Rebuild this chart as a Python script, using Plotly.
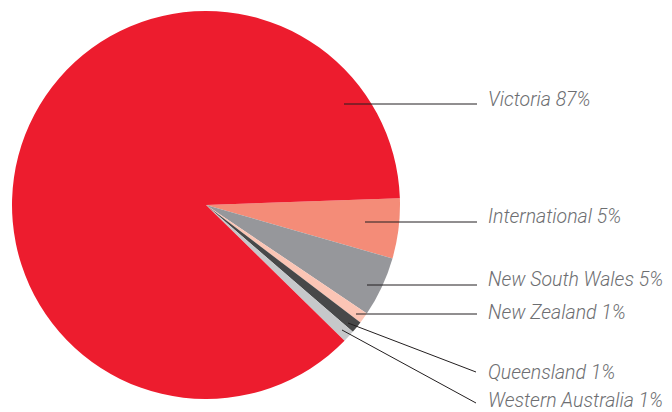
import plotly.graph_objects as go

# Data (clockwise from just above 3 o'clock)
regions = ["International", "New South Wales", "New Zealand", "Queensland", "Western Australia", "Victoria"]
shares = [5.0, 5.0, 0.9, 1.0, 1.0, 87.1]
label_pct = ["5%", "5%", "1%", "1%", "1%", "87%"]
colors = ["#F48C78", "#96979B", "#FBC5B5", "#474849", "#C6C8CA", "#ED1C2E"]

W, H = 672, 412
cx, cy, r = 206, 205, 194

fig = go.Figure(go.Pie(
    labels=regions,
    values=shares,
    sort=False,
    direction="clockwise",
    rotation=88,
    marker=dict(colors=colors, line=dict(width=0)),
    textinfo="none",
    hoverinfo="label+percent",
    domain=dict(x=[(cx - r) / W, (cx + r) / W], y=[(H - cy - r) / H, (H - cy + r) / H]),
    showlegend=False,
))

# Leader-line layout (pixel coords): start (x0,y0), end (x1,y1), label y center
leaders = {
    "Victoria": (344, 104, 477, 104, 99),
    "International": (365, 222, 477, 222, 216),
    "New South Wales": (367, 285, 477, 285, 279),
    "New Zealand": (356, 314, 477, 314, 312),
    "Queensland": (348, 323, 476, 372, 372),
    "Western Australia": (342, 330, 476, 403, 400),
}

def px(x):
    return x / W

def py(y):
    return 1 - y / H

shapes = []
annotations = []
for name, pct in zip(regions, label_pct):
    x0, y0, x1, y1, ly = leaders[name]
    shapes.append(dict(type="line", xref="paper", yref="paper",
                       x0=px(x0), y0=py(y0), x1=px(x1), y1=py(y1),
                       line=dict(color="#231f20", width=1)))
    annotations.append(dict(xref="paper", yref="paper", x=px(486), y=py(ly),
                            xanchor="left", yanchor="middle", showarrow=False,
                            text=f"{name} {pct}",
                            font=dict(family="Roboto, Liberation Sans, Arial, sans-serif", size=19.5,
                                      color="#6d6e71", style="italic", weight=300)))

fig.update_layout(
    width=W, height=H,
    margin=dict(l=0, r=0, t=0, b=0),
    paper_bgcolor="white",
    plot_bgcolor="white",
    shapes=shapes,
    annotations=annotations,
)

fig.write_html("out.html")
